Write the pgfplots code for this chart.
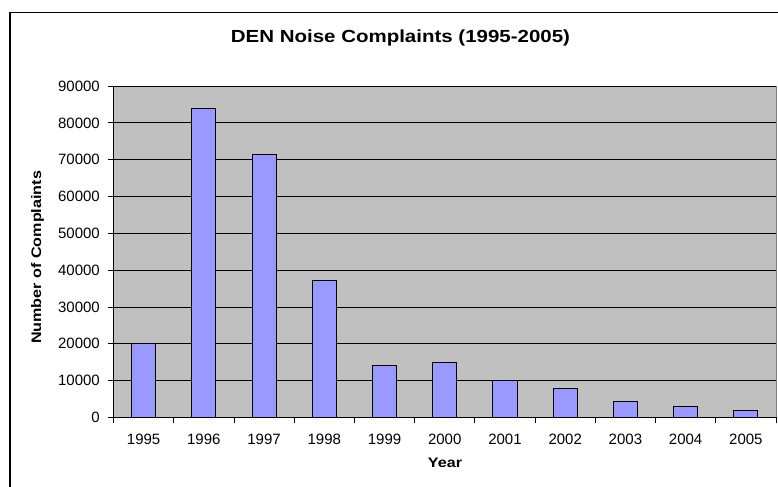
\documentclass[border=0pt]{standalone}
\usepackage{fontspec}
\setmainfont{Liberation Sans}
\newfontfamily\stretchfont[FakeStretch=1.17]{Liberation Sans}
\usepackage{pgfplots}
\pgfplotsset{compat=1.18}
\definecolor{plotbg}{HTML}{C0C0C0}
\definecolor{barfill}{HTML}{9999FF}
\definecolor{plotborder}{HTML}{808080}
\begin{document}
\begin{tikzpicture}
\useasboundingbox (0,0) rectangle (778bp,487bp);
\draw[line width=1.3bp] (10bp,-20bp) -- (10bp,474.7bp) -- (800bp,474.7bp);
\begin{axis}[
  at={(113.5bp,69.5bp)}, anchor=south west,
  scale only axis, width=662.5bp, height=331.5bp,
  xmin=-0.5, xmax=10.5, ymin=0, ymax=90000,
  axis background/.style={fill=plotbg, draw=plotborder, line width=0.8bp},
  axis lines*=left,
  axis line style={black, line width=0.8bp, -},
  tick align=outside,
  xtick={-0.5,0.5,...,10.5},
  xticklabels={1995,1996,1997,1998,1999,2000,2001,2002,2003,2004,2005,{}},
  major tick length=6bp,
  every tick/.style={black, line width=0.8bp},
  ytick={0,10000,...,90000},
  scaled y ticks=false,
  /pgf/number format/.cd, 1000 sep={}, assume math mode=true, /pgfplots/.cd,
  ymajorgrids,
  major grid style={black, line width=0.8bp},
  tick label style={font=\fontsize{15bp}{17bp}\selectfont, inner sep=0pt},
  yticklabel style={anchor=east, xshift=-7.5bp},
  xticklabel style={anchor=north, yshift=-10bp, xshift=30.1bp},
]
\addplot[ybar, bar width=0.4, fill=barfill, draw=black, line width=0.9bp] coordinates {
  (0,20200) (1,84000) (2,71500) (3,37200) (4,14200) (5,15000)
  (6,10000) (7,8000) (8,4400) (9,2900) (10,1800)
};
\end{axis}
\node[font=\stretchfont\bfseries\fontsize{17.5bp}{20bp}\selectfont] at (400.5bp,449bp) {DEN Noise Complaints (1995-2005)};
\node[font=\stretchfont\bfseries\fontsize{13.8bp}{16bp}\selectfont, rotate=90] at (37.5bp,229.6bp) {Number of Complaints};
\node[font=\stretchfont\bfseries\fontsize{13.8bp}{16bp}\selectfont] at (445bp,24bp) {Year};
\end{tikzpicture}
\end{document}
